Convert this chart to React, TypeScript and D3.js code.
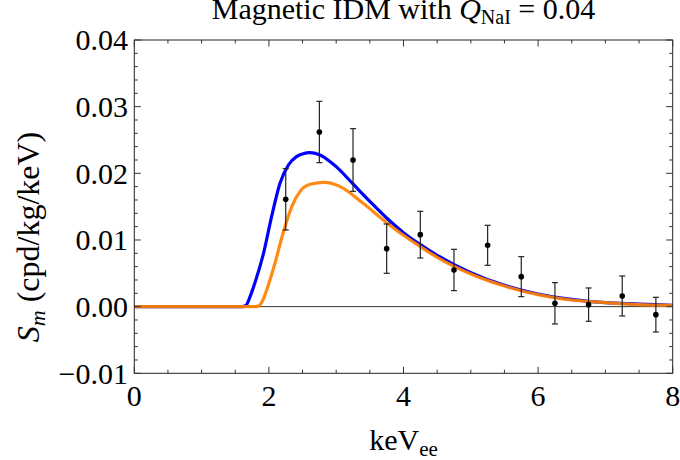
import React from "react";
import * as d3 from "d3";

const binCenters = [2.25, 2.75, 3.25, 3.75, 4.25, 4.75, 5.25, 5.75, 6.25, 6.75, 7.25, 7.75];
const binValues = [0.0161, 0.0262, 0.0220, 0.0087, 0.0108, 0.0055, 0.0092, 0.0045, 0.0005, 0.0003, 0.0016, -0.0012];
const binErrors = [0.0046, 0.0046, 0.0047, 0.0037, 0.0035, 0.0031, 0.0030, 0.0030, 0.0031, 0.0025, 0.0030, 0.0026];

const blueX = [0, 1.6, 1.66, 1.72, 1.79, 1.92, 2.04, 2.165, 2.29, 2.41, 2.5, 2.61, 2.75, 3.0, 3.25, 3.5, 3.75, 4.0, 4.25, 4.5, 5.0, 5.5, 6.0, 6.5, 7.0, 7.5, 8];
const blueY = [0, 0, 0.0002, 0.0015, 0.0035, 0.008, 0.0135, 0.0185, 0.02125, 0.0225, 0.0229, 0.0231, 0.0228, 0.0210, 0.0184, 0.0158, 0.0133, 0.0111, 0.0093, 0.0077, 0.0051, 0.0032, 0.0019, 0.0011, 0.0006, 0.0004, 0.0002];

const orangeX = [0, 1.8, 1.86, 1.92, 1.967, 2.09, 2.21, 2.34, 2.46, 2.61, 2.83, 3.06, 3.4, 3.75, 4.0, 4.25, 4.5, 5.0, 5.5, 6.0, 6.5, 7.0, 7.5, 8];
const orangeY = [0, 0, 0.0002, 0.0012, 0.0025, 0.0065, 0.011, 0.015, 0.01725, 0.01835, 0.01865, 0.018, 0.0155, 0.0126, 0.0107, 0.0090, 0.0074, 0.0049, 0.0031, 0.0018, 0.0010, 0.0006, 0.0003, 0.0002];

const xMajor = [0, 2, 4, 6, 8];
const yMajor = [-0.01, 0, 0.01, 0.02, 0.03, 0.04];
const yLabels = ["\u22120.01", "0.00", "0.01", "0.02", "0.03", "0.04"];

const W = 680, H = 460;
const L = 134.3, R = 672.7, T = 40, B = 373.3;
const FONT = '"Liberation Serif"';

export default function App() {
  const x = d3.scaleLinear().domain([0, 8]).range([L, R]);
  const y = d3.scaleLinear().domain([-0.01, 0.04]).range([B, T]);

  const line = d3
    .line<[number, number]>()
    .x((d) => x(d[0]))
    .y((d) => y(d[1]))
    .curve(d3.curveMonotoneX);

  const blue = line(blueX.map((v, i) => [v, blueY[i]] as [number, number])) || "";
  const orange = line(orangeX.map((v, i) => [v, orangeY[i]] as [number, number])) || "";

  const xMinor = d3.range(0, 8.001, 0.5).filter((v) => !xMajor.some((m) => Math.abs(m - v) < 1e-6));
  const yMinor = d3.range(-0.01, 0.04001, 0.002).filter((v) => !yMajor.some((m) => Math.abs(m - v) < 1e-6));

  const tickColor = "#333";
  const majLen = 6.5;
  const minLen = 3.5;
  const tf = { fontFamily: FONT };

  return (
    <svg width={W} height={H} style={{ position: "absolute", left: 0, top: 0, background: "#fff" }}>
      <defs>
        <clipPath id="plotclip">
          <rect x={L} y={T} width={R - L} height={B - T} />
        </clipPath>
      </defs>

      {/* title */}
      <text x={(L + R) / 2} y={19} textAnchor="middle" fontSize={30} fill="#000" style={tf}>
        Magnetic IDM with <tspan fontStyle="italic">Q</tspan>
        <tspan fontSize={20} dy={5}>NaI</tspan>
        <tspan dy={-5}> = 0.04</tspan>
      </text>

      {/* zero line */}
      <line x1={L} x2={R} y1={y(0)} y2={y(0)} stroke="#333" strokeWidth={1} />

      {/* curves */}
      <g clipPath="url(#plotclip)">
        <path d={blue} fill="none" stroke="#0000ff" strokeWidth={3.2} />
        <path d={orange} fill="none" stroke="#ff8000" strokeWidth={3.2} strokeOpacity={0.92} />
      </g>

      {/* error bars */}
      <g stroke="#222" strokeWidth={1.2}>
        {binCenters.map((c, i) => {
          const cx = x(c);
          const y1 = y(binValues[i] + binErrors[i]);
          const y2 = y(binValues[i] - binErrors[i]);
          return (
            <g key={i}>
              <line x1={cx} x2={cx} y1={y1} y2={y2} />
              <line x1={cx - 3} x2={cx + 3} y1={y1} y2={y1} />
              <line x1={cx - 3} x2={cx + 3} y1={y2} y2={y2} />
            </g>
          );
        })}
      </g>
      <g fill="#000">
        {binCenters.map((c, i) => (
          <circle key={i} cx={x(c)} cy={y(binValues[i])} r={2.8} />
        ))}
      </g>

      {/* frame */}
      <rect x={L} y={T} width={R - L} height={B - T} fill="none" stroke="#222" strokeWidth={1} />

      {/* ticks */}
      <g stroke={tickColor} strokeWidth={1}>
        {xMajor.map((v) => (
          <g key={"xm" + v}>
            <line x1={x(v)} x2={x(v)} y1={B} y2={B - majLen} />
            <line x1={x(v)} x2={x(v)} y1={T} y2={T + majLen} />
          </g>
        ))}
        {xMinor.map((v) => (
          <g key={"xn" + v}>
            <line x1={x(v)} x2={x(v)} y1={B} y2={B - minLen} />
            <line x1={x(v)} x2={x(v)} y1={T} y2={T + minLen} />
          </g>
        ))}
        {yMajor.map((v) => (
          <g key={"ym" + v}>
            <line x1={L} x2={L + majLen} y1={y(v)} y2={y(v)} />
            <line x1={R} x2={R - majLen} y1={y(v)} y2={y(v)} />
          </g>
        ))}
        {yMinor.map((v) => (
          <g key={"yn" + v}>
            <line x1={L} x2={L + minLen} y1={y(v)} y2={y(v)} />
            <line x1={R} x2={R - minLen} y1={y(v)} y2={y(v)} />
          </g>
        ))}
      </g>

      {/* tick labels */}
      <g fontSize={30} fill="#000" style={tf}>
        {xMajor.map((v) => (
          <text key={"xl" + v} x={x(v)} y={406} textAnchor="middle" style={tf}>
            {String(v)}
          </text>
        ))}
        {yMajor.map((v, i) => (
          <text key={"yl" + v} x={128} y={y(v)} dy="0.34em" textAnchor="end" style={tf}>
            {yLabels[i]}
          </text>
        ))}
      </g>

      {/* axis labels */}
      <text x={(L + R) / 2} y={450} textAnchor="middle" fontSize={30} fill="#000" style={tf}>
        keV<tspan fontSize={21} dy={6}>ee</tspan>
      </text>
      <text transform={`translate(39,237) rotate(-90)`} textAnchor="middle" fontSize={32} fill="#000" style={tf}>
        <tspan fontStyle="italic">S</tspan>
        <tspan fontStyle="italic" fontSize={22} dy={6}>m</tspan>
        <tspan dy={-6}> (cpd/kg/keV)</tspan>
      </text>
    </svg>
  );
}
